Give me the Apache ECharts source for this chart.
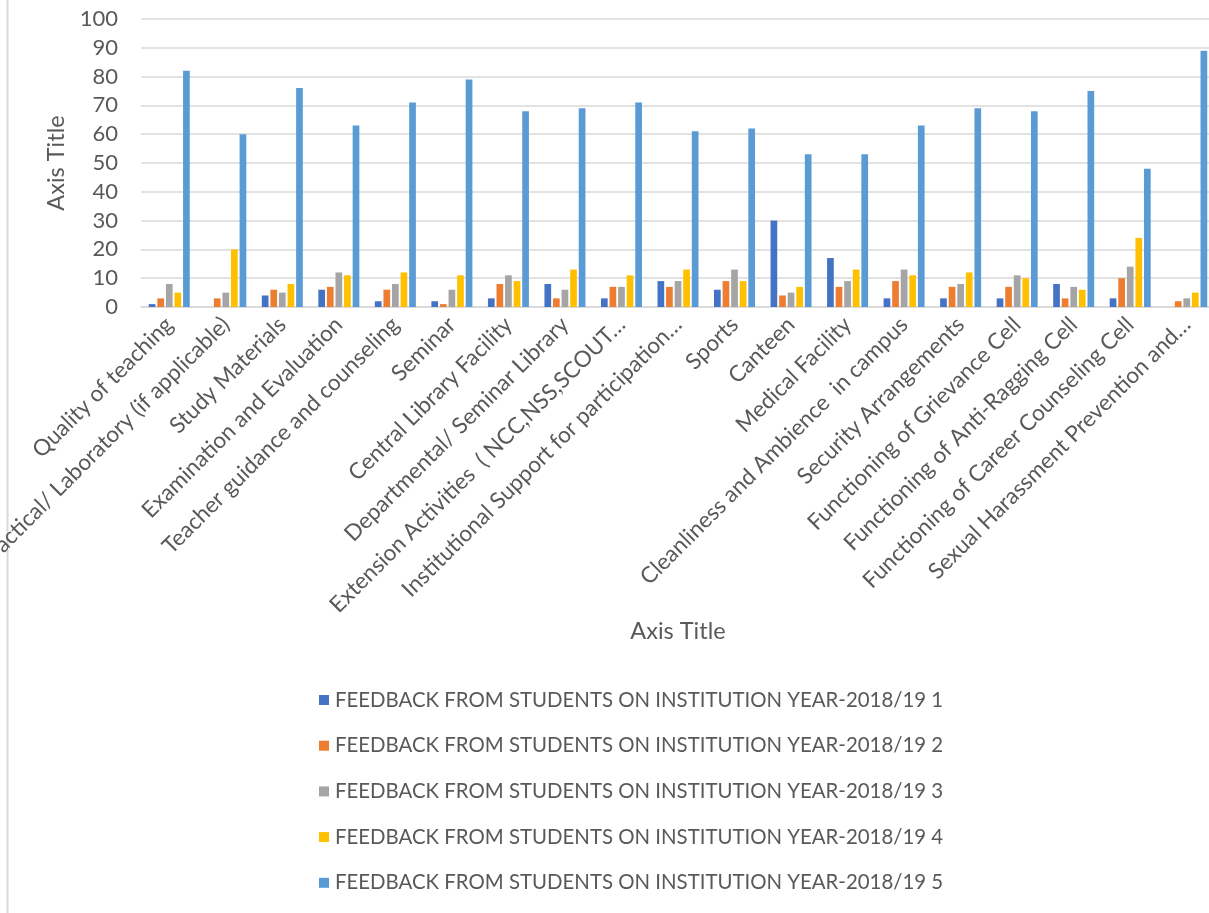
<!DOCTYPE html>
<html>
<head>
<meta charset="utf-8">
<script src="https://cdn.jsdelivr.net/npm/echarts@6/dist/echarts.min.js"></script>
<style>
html,body{margin:0;padding:0;background:#fff;}
#chart{width:1209px;height:913px;}
</style>
</head>
<body>
<div id="chart"></div>
<script>
const categories = [
  "Quality of teaching",
  "Practical/ Laboratory (if applicable)",
  "Study Materials",
  "Examination and Evaluation",
  "Teacher guidance and counseling",
  "Seminar",
  "Central Library Facility",
  "Departmental/ Seminar Library",
  "Extension Activities  ( NCC,NSS,SCOUT…",
  "Institutional Support for participation…",
  "Sports",
  "Canteen",
  "Medical Facility",
  "Cleanliness and Ambience  in campus",
  "Security Arrangements",
  "Functioning of Grievance Cell",
  "Functioning of Anti-Ragging Cell",
  "Functioning of Career Counseling Cell",
  "Sexual Harassment Prevention and…"
];
const seriesNames = [
  "FEEDBACK FROM STUDENTS ON INSTITUTION YEAR-2018/19 1",
  "FEEDBACK FROM STUDENTS ON INSTITUTION YEAR-2018/19 2",
  "FEEDBACK FROM STUDENTS ON INSTITUTION YEAR-2018/19 3",
  "FEEDBACK FROM STUDENTS ON INSTITUTION YEAR-2018/19 4",
  "FEEDBACK FROM STUDENTS ON INSTITUTION YEAR-2018/19 5"
];
const values1 = [1, 0, 4, 6, 2, 2, 3, 8, 3, 9, 6, 30, 17, 3, 3, 3, 8, 3, 0];
const values2 = [3, 3, 6, 7, 6, 1, 8, 3, 7, 7, 9, 4, 7, 9, 7, 7, 3, 10, 2];
const values3 = [8, 5, 5, 12, 8, 6, 11, 6, 7, 9, 13, 5, 9, 13, 8, 11, 7, 14, 3];
const values4 = [5, 20, 8, 11, 12, 11, 9, 13, 11, 13, 9, 7, 13, 11, 12, 10, 6, 24, 5];
const values5 = [82, 60, 76, 63, 71, 79, 68, 69, 71, 61, 62, 53, 53, 63, 69, 68, 75, 48, 89];
const yTicks = [0, 10, 20, 30, 40, 50, 60, 70, 80, 90, 100];

const colors = ["#4472C4", "#ED7D31", "#A5A5A5", "#FFC000", "#5B9BD5"];
const allValues = [values1, values2, values3, values4, values5];
const FONT = "Lato";
const TXT = "#595959";

const chart = echarts.init(document.getElementById('chart'), null, {renderer: 'canvas'});
chart.setOption({
  animation: false,
  backgroundColor: '#ffffff',
  color: colors,
  textStyle: {fontFamily: FONT, color: TXT},
  graphic: [{
    type: 'line',
    shape: {x1: 7.5, y1: 0, x2: 7.5, y2: 913},
    style: {stroke: '#d9d9d9', lineWidth: 2}
  }],
  grid: {left: 141, top: 19, width: 1074, height: 288, containLabel: false, outerBoundsMode: 'none'},
  legend: {
    orient: 'vertical',
    left: 314,
    top: 684,
    itemWidth: 10,
    itemHeight: 10,
    itemGap: 23.7,
    icon: 'rect',
    data: seriesNames,
    textStyle: {fontFamily: FONT, fontSize: 20.4, color: TXT, lineHeight: 22, padding: [0, 0, 0, 1]}
  },
  xAxis: {
    type: 'category',
    data: categories,
    name: 'Axis Title',
    nameLocation: 'middle',
    nameGap: 310,
    nameTextStyle: {fontFamily: FONT, fontSize: 23.5, color: TXT},
    axisLine: {show: true, lineStyle: {color: '#d9d9d9', width: 1.5}},
    axisTick: {show: false},
    axisLabel: {rotate: 45, interval: 0, margin: 14, fontFamily: FONT, fontSize: 22.5, color: TXT}
  },
  yAxis: {
    type: 'value',
    min: yTicks[0],
    max: yTicks[yTicks.length - 1],
    interval: yTicks[1] - yTicks[0],
    name: 'Axis Title',
    nameLocation: 'middle',
    nameGap: 68,
    nameRotate: 90,
    nameTextStyle: {fontFamily: FONT, fontSize: 23.5, color: TXT},
    axisLine: {show: false},
    axisTick: {show: false},
    axisLabel: {margin: 23, fontFamily: FONT, fontSize: 22, color: TXT},
    splitLine: {lineStyle: {color: '#d9d9d9', width: 1.5}}
  },
  series: seriesNames.map((n, i) => ({
    name: n,
    type: 'bar',
    data: allValues[i],
    barWidth: 6.7,
    barGap: '28%',
    itemStyle: {color: colors[i]}
  }))
});
</script>
</body>
</html>
